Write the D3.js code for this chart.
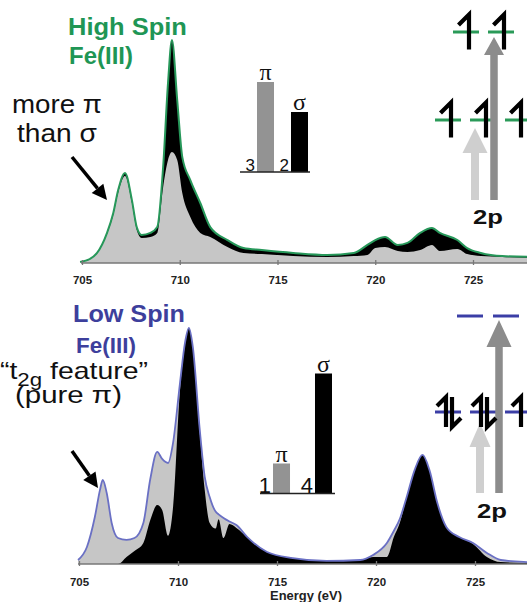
<!DOCTYPE html>
<html>
<head>
<meta charset="utf-8">
<script src="https://cdn.jsdelivr.net/npm/d3@7"></script>
<style>
body { margin: 0; background: #fff; }
svg { display: block; font-family: "Liberation Sans", Arial, sans-serif; }
</style>
</head>
<body>
<svg id="fig" width="527" height="602"></svg>
<script>
// high spin Fe(III): energies (eV), total intensity, pi component
let hsEnergy = [704.9, 705.4, 705.77, 706.28, 706.6, 706.85, 707.2, 707.55, 707.8, 708.05, 708.5, 708.85, 709.15, 709.4, 709.6, 709.87, 710.13, 710.54, 711.05, 711.56, 712.44, 713.26, 714.2, 715.8, 717.55, 718.9, 719.6, 720.0, 720.5, 721.15, 721.65, 722.3, 722.9, 723.3, 724.2, 724.7, 725.4, 726.5, 728.5];
let hsTotal = [0.005, 0.018, 0.045, 0.135, 0.224, 0.327, 0.404, 0.283, 0.161, 0.126, 0.135, 0.161, 0.43, 0.807, 1.0, 0.731, 0.475, 0.372, 0.269, 0.161, 0.103, 0.067, 0.058, 0.045, 0.036, 0.045, 0.081, 0.103, 0.117, 0.081, 0.090, 0.135, 0.157, 0.135, 0.103, 0.067, 0.045, 0.031, 0.027];
let hsPi = [0.005, 0.018, 0.045, 0.13, 0.215, 0.315, 0.39, 0.27, 0.148, 0.112, 0.117, 0.135, 0.34, 0.462, 0.498, 0.462, 0.314, 0.206, 0.135, 0.117, 0.072, 0.045, 0.04, 0.031, 0.027, 0.031, 0.036, 0.067, 0.072, 0.054, 0.049, 0.058, 0.081, 0.054, 0.063, 0.04, 0.031, 0.027, 0.022];

// low spin Fe(III): energies (eV), total intensity, sigma component
let lsEnergy = [704.95, 705.4, 705.8, 706.06, 706.2, 706.4, 706.65, 706.97, 707.4, 707.8, 708.25, 708.6, 708.95, 709.2, 709.5, 709.75, 710.1, 710.35, 710.55, 710.75, 711.1, 711.35, 711.6, 711.9, 712.05, 712.3, 712.6, 712.95, 713.5, 714.5, 715.8, 717.5, 719.2, 719.85, 720.55, 720.9, 721.2, 721.55, 721.95, 722.35, 722.7, 723.1, 723.55, 724.2, 724.9, 725.6, 726.3, 727.6, 728.5];
let lsTotal = [0.017, 0.072, 0.199, 0.314, 0.356, 0.301, 0.174, 0.110, 0.102, 0.110, 0.174, 0.36, 0.475, 0.445, 0.428, 0.513, 0.767, 0.936, 1.0, 0.919, 0.568, 0.369, 0.284, 0.222, 0.21, 0.195, 0.18, 0.165, 0.114, 0.051, 0.025, 0.013, 0.017, 0.038, 0.089, 0.14, 0.19, 0.284, 0.398, 0.462, 0.398, 0.258, 0.157, 0.114, 0.089, 0.047, 0.017, 0.008, 0.006];
let lsSigma = [0, 0, 0, 0, 0, 0, 0, 0, 0.030, 0.055, 0.089, 0.186, 0.25, 0.229, 0.12, 0.24, 0.737, 0.928, 1.0, 0.919, 0.555, 0.314, 0.174, 0.15, 0.19, 0.11, 0.169, 0.153, 0.114, 0.051, 0.025, 0.013, 0.017, 0.03, 0.03, 0.114, 0.174, 0.284, 0.398, 0.462, 0.398, 0.258, 0.157, 0.114, 0.085, 0.030, 0.008, 0.004, 0.003];

let tickValues = [705, 710, 715, 720, 725];

// inset bars: pi / sigma counts
let bondTypes = ["π", "σ"];
let hsBonds = [3, 2];
let lsBonds = [1, 4];

// d orbital occupations (upper e_g pair, lower t_2g triple)
let hsUpper = [1, 1];
let hsLower = [1, 1, 1];
let lsUpper = [0, 0];
let lsLower = [2, 2, 1];

let svg = d3.select("#fig");

// stretch a text horizontally to a target width (figure text is widened)
function fitText(t, x, y, w) {
    let len = t.node().getBBox().width;
    t.attr("transform", "translate(" + x + "," + y + ") scale(" + (w / len) + ",1)");
    return t;
}

function pointer(g, x1, y1, x2, y2) {
    let a = Math.atan2(y2 - y1, x2 - x1), hl = 15, hw = 7.5;
    let bx = x2 - hl * Math.cos(a), by = y2 - hl * Math.sin(a);
    g.append("line").attr("x1", x1).attr("y1", y1).attr("x2", bx).attr("y2", by)
        .attr("stroke", "#000").attr("stroke-width", 3.5);
    let nx = -Math.sin(a) * hw, ny = Math.cos(a) * hw;
    g.append("path")
        .attr("d", "M" + x2 + "," + y2 + "L" + (bx + nx) + "," + (by + ny) + "L" + (bx - nx) + "," + (by - ny) + "Z")
        .attr("fill", "#000");
}

function blockArrow(g, cx, y0, tip, sw, hw, hl, color) {
    g.append("path")
        .attr("d", "M" + (cx - sw / 2) + "," + y0 + "V" + (tip + hl) + "H" + (cx - hw / 2) +
            "L" + cx + "," + tip + "L" + (cx + hw / 2) + "," + (tip + hl) + "H" + (cx + sw / 2) + "V" + y0 + "Z")
        .attr("fill", color);
}

function harpoon(g, sx, cy, h, up) {
    let top = cy - h / 2, bot = cy + h / 2, b = h * 0.3;
    let d = up ? "M" + sx + "," + bot + "V" + top + "L" + (sx - b) + "," + (top + b)
               : "M" + sx + "," + top + "V" + bot + "L" + (sx + b) + "," + (bot - b);
    g.append("path").attr("d", d).attr("fill", "none").attr("stroke", "#000")
        .attr("stroke-width", 4.2).attr("stroke-linejoin", "miter");
}

function levels(g, occ, x0, step, w, y, h, color) {
    occ.forEach(function(n, i) {
        let xs = x0 + i * step;
        g.append("line").attr("x1", xs).attr("x2", xs + w).attr("y1", y).attr("y2", y)
            .attr("stroke", color).attr("stroke-width", 3);
    });
    return function() {
        occ.forEach(function(n, i) {
            let c = x0 + i * step + w / 2;
            if (n == 1) harpoon(g, c + 3, y, h, true);
            if (n == 2) { harpoon(g, c - 2, y, h, true); harpoon(g, c + 4, y, h, false); }
        });
    };
}

function panel(o) {
    let g = svg.append("g");
    let x = d3.scaleLinear().domain([705, 725]).range(o.xRange);
    let y = d3.scaleLinear().domain([0, 1]).range([o.base, o.top]);
    let pts = o.energy.map((e, i) => ({e: e, back: o.back[i], front: o.front[i]}));

    let area = key => d3.area().x(d => x(d.e)).y0(o.base).y1(d => y(d[key])).curve(d3.curveMonotoneX);

    g.append("path").datum(pts).attr("d", area("back")).attr("fill", o.backFill);
    g.append("path").datum(pts).attr("d", area("front")).attr("fill", o.frontFill);
    g.append("path").datum(pts)
        .attr("d", d3.line().x(d => x(d.e)).y(d => y(d.back)).curve(d3.curveMonotoneX))
        .attr("fill", "none").attr("stroke", o.lineColor).attr("stroke-width", o.lineWidth);

    // axis
    g.append("line").attr("x1", x(705) - 1).attr("x2", 527).attr("y1", o.base).attr("y2", o.base)
        .attr("stroke", "#777").attr("stroke-width", 1.3);
    let ax = g.append("g").attr("transform", "translate(0," + (o.base - 3) + ")")
        .call(d3.axisBottom(x).tickValues(tickValues).tickSize(5).tickFormat(d3.format("d")));
    ax.select(".domain").remove();
    ax.selectAll(".tick line").attr("stroke", "#777").attr("stroke-width", 1.3);
    ax.selectAll(".tick text").attr("y", o.tickY - o.base + 3).attr("dy", 0)
        .attr("font-family", "Liberation Sans, Arial, sans-serif")
        .attr("font-size", 11.5).attr("font-weight", "bold").attr("fill", "#222");

    // title
    fitText(g.append("text").text(o.title[0]).attr("font-size", 23).attr("font-weight", "bold").attr("fill", o.titleColor),
        o.titleX[0], o.titleY[0], o.titleW[0]);
    fitText(g.append("text").text(o.title[1]).attr("font-size", 23).attr("font-weight", "bold").attr("fill", o.titleColor),
        o.titleX[1], o.titleY[1], o.titleW[1]);

    // inset bars
    let bx = d3.scaleBand().domain(bondTypes).range(o.barRange).paddingInner(o.barPad);
    let by = d3.scaleLinear().domain([0, 4]).range([0, 120]);
    g.selectAll(".bar").data(o.bonds).enter().append("rect")
        .attr("x", (d, i) => bx(bondTypes[i])).attr("width", bx.bandwidth())
        .attr("y", d => o.barBase - by(d)).attr("height", d => by(d))
        .attr("fill", (d, i) => i == 0 ? "#939393" : "#000");
    g.append("line").attr("x1", o.barLine[0]).attr("x2", o.barLine[1])
        .attr("y1", o.barBase).attr("y2", o.barBase).attr("stroke", "#222").attr("stroke-width", 1.5);
    g.selectAll(".num").data(o.bonds).enter().append("text")
        .attr("x", (d, i) => bx(bondTypes[i]) - 2).attr("y", o.barBase - 1)
        .attr("text-anchor", "end").attr("font-size", o.numSize).attr("fill", "#111")
        .text(d => d);
    g.selectAll(".greek").data(o.bonds).enter().append("text")
        .attr("x", (d, i) => bx(bondTypes[i]) + bx.bandwidth() / 2).attr("y", d => o.barBase - by(d) - 2)
        .attr("text-anchor", "middle").attr("font-size", 24)
        .attr("font-family", "Liberation Serif, Times New Roman, serif").attr("fill", "#111")
        .text((d, i) => bondTypes[i]);

    // orbital diagram
    let drawUp = levels(g, o.upper, o.upperX, o.levelStep, 26, o.upperY, o.spinH, o.levelColor);
    let drawLo = levels(g, o.lower, 435, 35, 26, o.lowerY, o.spinH, o.levelColor);
    blockArrow(g, o.lightArrow[0], o.arrowBase, o.lightArrow[1], 8, o.lightArrow[2], o.lightArrow[3], "#cfcfcf");
    blockArrow(g, o.darkArrow[0], o.arrowBase, o.darkArrow[1], 7.5, o.darkArrow[2], o.darkArrow[3], "#8c8c8c");
    drawUp();
    drawLo();
    fitText(g.append("text").text("2p").attr("font-size", 21).attr("font-weight", "bold").attr("fill", "#111"),
        o.twoP[0], o.twoP[1], 30);
    return g;
}

let hsPanel = panel({
    energy: hsEnergy, back: hsTotal, front: hsPi,
    xRange: [82, 473], base: 263, top: 40, tickY: 283.5,
    backFill: "#000", frontFill: "#c6c6c6", lineColor: "#27985a", lineWidth: 2,
    title: ["High Spin", "Fe(III)"], titleColor: "#1f9655",
    titleX: [68, 69], titleY: [35, 63.5], titleW: [119, 64],
    bonds: hsBonds, barRange: [257, 308], barPad: 0.5, barBase: 172, barLine: [240, 310], numSize: 17,
    upper: hsUpper, lower: hsLower, upperX: 453, levelStep: 35, upperY: 32, lowerY: 120, spinH: 35,
    levelColor: "#2a9a58", arrowBase: 200,
    lightArrow: [475, 128, 25, 25], darkArrow: [494, 37, 20, 18], twoP: [473, 223.5]
});

let lsPanel = panel({
    energy: lsEnergy, back: lsTotal, front: lsSigma,
    xRange: [79, 475], base: 564, top: 328, tickY: 586,
    backFill: "#c6c6c6", frontFill: "#000", lineColor: "#6a70c4", lineWidth: 1.8,
    title: ["Low Spin", "Fe(III)"], titleColor: "#3d3f9c",
    titleX: [73, 76], titleY: [322, 353], titleW: [112, 60],
    bonds: lsBonds, barRange: [273, 332], barPad: 0.595, barBase: 493.5, barLine: [260, 335], numSize: 22,
    upper: lsUpper, lower: lsLower, upperX: 457, levelStep: 36, upperY: 316, lowerY: 412, spinH: 30,
    levelColor: "#3b3ea6", arrowBase: 493,
    lightArrow: [480, 423, 21, 24], darkArrow: [499, 320, 25, 27], twoP: [477, 517.5]
});

// annotations
let ann = svg.append("g").attr("fill", "#111");
fitText(ann.append("text").text("more π").attr("font-size", 26), 12, 112.5, 90);
fitText(ann.append("text").text("than σ").attr("font-size", 26), 17, 141.5, 80);
pointer(ann, 72, 157, 107, 200);

let t2g = ann.append("text").attr("font-size", 23);
t2g.append("tspan").text("“t");
t2g.append("tspan").attr("dy", 7).attr("font-size", 18).text("2g");
t2g.append("tspan").attr("dy", -7).text(" feature”");
fitText(t2g, 0, 379, 148);
fitText(ann.append("text").text("(pure π)").attr("font-size", 23), 15, 403, 107);
pointer(ann, 72, 451, 98, 488);

fitText(svg.append("text").text("Energy (eV)").attr("font-size", 13).attr("font-weight", "bold").attr("fill", "#222"),
    270, 599.5, 72);
</script>
</body>
</html>
